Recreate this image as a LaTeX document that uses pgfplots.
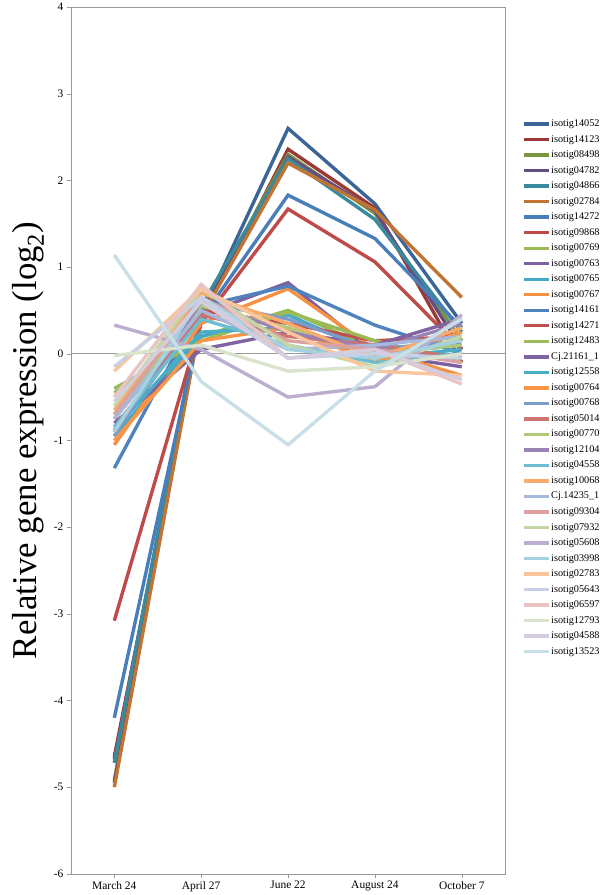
\documentclass[border=0pt]{standalone}
\usepackage{pgfplots}
\pgfplotsset{compat=1.18}
\usepackage{fontspec}
\setmainfont{Liberation Serif}

\definecolor{c1}{HTML}{3A6596}
\definecolor{c2}{HTML}{9A3A37}
\definecolor{c3}{HTML}{7A9440}
\definecolor{c4}{HTML}{644D82}
\definecolor{c5}{HTML}{3A8A9E}
\definecolor{c6}{HTML}{C27532}
\definecolor{c7}{HTML}{4A7EBB}
\definecolor{c8}{HTML}{BE4B48}
\definecolor{c9}{HTML}{98B954}
\definecolor{c10}{HTML}{7D60A0}
\definecolor{c11}{HTML}{46AAC5}
\definecolor{c12}{HTML}{F69143}
\definecolor{c13}{HTML}{5083BE}
\definecolor{c14}{HTML}{C0504D}
\definecolor{c15}{HTML}{9BBB59}
\definecolor{c16}{HTML}{8064A2}
\definecolor{c17}{HTML}{4BACC6}
\definecolor{c18}{HTML}{F79646}
\definecolor{c19}{HTML}{7A9CCB}
\definecolor{c20}{HTML}{CD7371}
\definecolor{c21}{HTML}{AFC97A}
\definecolor{c22}{HTML}{9983B5}
\definecolor{c23}{HTML}{6FBDD1}
\definecolor{c24}{HTML}{F9AB6B}
\definecolor{c25}{HTML}{A7B9DA}
\definecolor{c26}{HTML}{DBA09F}
\definecolor{c27}{HTML}{C5D6A5}
\definecolor{c28}{HTML}{BBAECF}
\definecolor{c29}{HTML}{A6D2E0}
\definecolor{c30}{HTML}{FBC59C}
\definecolor{c31}{HTML}{C6D0E7}
\definecolor{c32}{HTML}{E8C5C4}
\definecolor{c33}{HTML}{DAE3CB}
\definecolor{c34}{HTML}{D4CDE0}
\definecolor{c35}{HTML}{C8DFE8}

\begin{document}
\begin{tikzpicture}
\begin{axis}[
    scale only axis,
    width=435bp, height=868bp,
    xmin=-0.5, xmax=4.5,
    ymin=-6, ymax=4,
    xtick={0,1,2,3,4},
    xticklabels={March 24, April 27, June 22, August 24, October 7},
    ytick={-6,-5,-4,-3,-2,-1,0,1,2,3,4},
    xtick pos=bottom, ytick pos=left,
    tick align=outside,
    major tick length=4bp,
    axis line style={gray!80},
    tick style={gray!80, thin},
    /pgf/number format/assume math mode=true,
    ticklabel style={font=\fontsize{11.5}{13}\selectfont},
    ylabel={Relative gene expression (log\textsubscript{2})},
    ylabel style={font=\fontsize{35}{40}\selectfont, at={(axis description cs:-0.099,0.5)},
        anchor=center, inner ysep=12bp},
    every axis plot/.append style={line width=3.4pt},
    legend image code/.code={\draw[#1, line width=3.4pt] (0bp,0bp) -- (25bp,0bp);},
    legend cell align=left,
    legend style={at={(axis description cs:1.039,0.871)}, anchor=north west,
        draw=none, fill=none, inner sep=0pt, font=\fontsize{10.3}{11}\selectfont,
        row sep=5.6pt, nodes={inner sep=0.5pt, text height=7pt, text depth=2pt}},
]
\addplot[gray!80, line width=0.8pt, forget plot] coordinates {(-0.5,0) (4.5,0)};

\addplot[c1]  coordinates {(0,-4.68) (1,0.45) (2,2.60) (3,1.73) (4,0.35)};
\addplot[c2]  coordinates {(0,-4.65) (1,0.40) (2,2.36) (3,1.68) (4,-0.10)};
\addplot[c3]  coordinates {(0,-4.92) (1,0.50) (2,2.30) (3,1.62) (4,0.15)};
\addplot[c4]  coordinates {(0,-4.95) (1,0.45) (2,2.27) (3,1.65) (4,0.05)};
\addplot[c5]  coordinates {(0,-4.72) (1,0.55) (2,2.25) (3,1.55) (4,0.25)};
\addplot[c6]  coordinates {(0,-5.00) (1,0.42) (2,2.20) (3,1.66) (4,0.65)};
\addplot[c7]  coordinates {(0,-4.20) (1,0.40) (2,1.83) (3,1.33) (4,0.30)};
\addplot[c8]  coordinates {(0,-3.08) (1,0.35) (2,1.67) (3,1.06) (4,0.05)};
\addplot[c9]  coordinates {(0,-0.45) (1,0.20) (2,0.50) (3,0.05) (4,-0.05)};
\addplot[c10] coordinates {(0,-0.90) (1,0.45) (2,0.82) (3,0.00) (4,-0.15)};
\addplot[c11] coordinates {(0,-0.95) (1,0.20) (2,0.45) (3,0.00) (4,0.10)};
\addplot[c12] coordinates {(0,-1.05) (1,0.35) (2,0.75) (3,0.05) (4,-0.25)};
\addplot[c13] coordinates {(0,-1.32) (1,0.55) (2,0.78) (3,0.33) (4,0.00)};
\addplot[c14] coordinates {(0,-0.75) (1,0.50) (2,0.35) (3,0.15) (4,0.20)};
\addplot[c15] coordinates {(0,-0.40) (1,0.15) (2,0.48) (3,0.15) (4,-0.10)};
\addplot[c16] coordinates {(0,-0.80) (1,0.05) (2,0.25) (3,0.10) (4,0.40)};
\addplot[c17] coordinates {(0,-0.88) (1,0.25) (2,0.30) (3,-0.05) (4,0.05)};
\addplot[c18] coordinates {(0,-1.00) (1,0.15) (2,0.30) (3,-0.10) (4,0.25)};
\addplot[c19] coordinates {(0,-0.95) (1,0.60) (2,0.40) (3,0.05) (4,0.15)};
\addplot[c20] coordinates {(0,-0.85) (1,0.45) (2,0.20) (3,0.10) (4,-0.05)};
\addplot[c21] coordinates {(0,-0.70) (1,0.55) (2,0.30) (3,0.00) (4,0.10)};
\addplot[c22] coordinates {(0,-0.90) (1,0.60) (2,0.25) (3,0.05) (4,0.35)};
\addplot[c23] coordinates {(0,-0.85) (1,0.40) (2,0.10) (3,-0.10) (4,0.00)};
\addplot[c24] coordinates {(0,-0.65) (1,0.70) (2,0.35) (3,-0.05) (4,0.30)};
\addplot[c25] coordinates {(0,-0.75) (1,0.50) (2,0.05) (3,0.10) (4,0.20)};
\addplot[c26] coordinates {(0,-0.70) (1,0.65) (2,0.15) (3,0.05) (4,-0.10)};
\addplot[c27] coordinates {(0,-0.60) (1,0.75) (2,0.10) (3,-0.15) (4,0.20)};
\addplot[c28] coordinates {(0,0.33) (1,0.05) (2,-0.50) (3,-0.38) (4,0.45)};
\addplot[c29] coordinates {(0,-0.90) (1,0.65) (2,0.05) (3,-0.05) (4,0.15)};
\addplot[c30] coordinates {(0,-0.20) (1,0.75) (2,0.25) (3,-0.20) (4,-0.25)};
\addplot[c31] coordinates {(0,-0.15) (1,0.65) (2,-0.05) (3,0.00) (4,-0.05)};
\addplot[c32] coordinates {(0,-0.50) (1,0.80) (2,-0.05) (3,0.05) (4,-0.35)};
\addplot[c33] coordinates {(0,-0.02) (1,0.10) (2,-0.20) (3,-0.15) (4,0.00)};
\addplot[c34] coordinates {(0,-0.55) (1,0.60) (2,-0.05) (3,0.05) (4,-0.30)};
\addplot[c35] coordinates {(0,1.14) (1,-0.32) (2,-1.05) (3,-0.20) (4,0.40)};

\legend{isotig14052, isotig14123, isotig08498, isotig04782, isotig04866, isotig02784,
    isotig14272, isotig09868, isotig00769, isotig00763, isotig00765, isotig00767,
    isotig14161, isotig14271, isotig12483, Cj.21161\_1, isotig12558, isotig00764,
    isotig00768, isotig05014, isotig00770, isotig12104, isotig04558, isotig10068,
    Cj.14235\_1, isotig09304, isotig07932, isotig05608, isotig03998, isotig02783,
    isotig05643, isotig06597, isotig12793, isotig04588, isotig13523}
\end{axis}
\end{tikzpicture}
\end{document}
